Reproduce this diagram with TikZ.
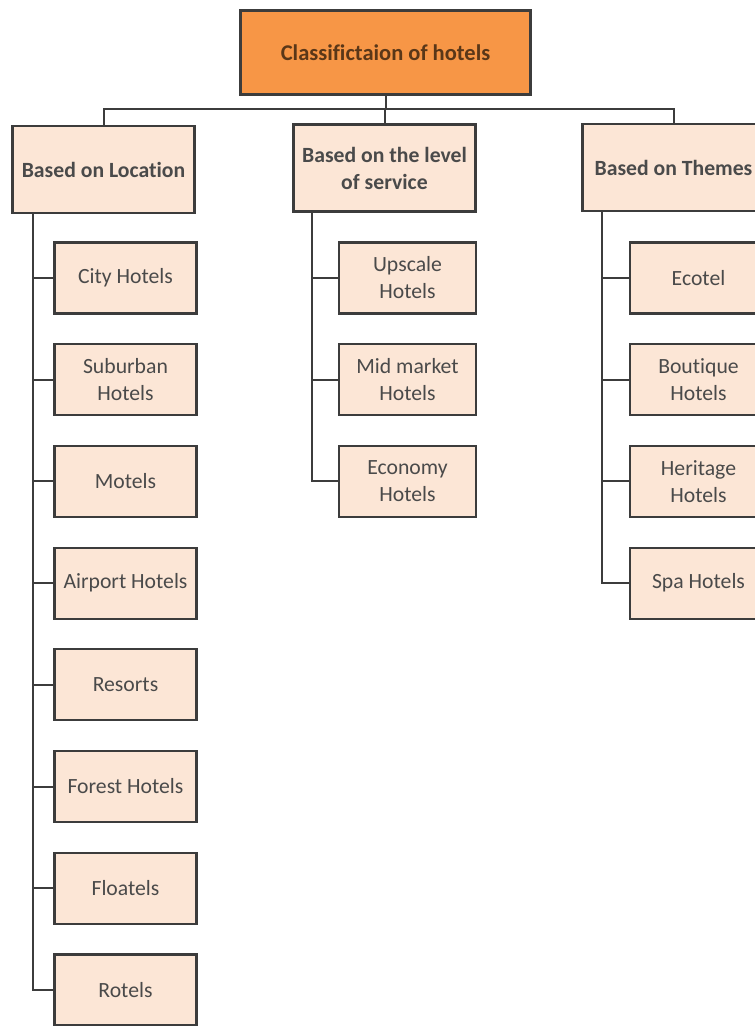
\documentclass[tikz,border=0pt]{standalone}
\usepackage{fontspec}
\setmainfont[Ligatures=NoCommon]{Carlito}
\definecolor{rootfill}{HTML}{F79646}
\definecolor{boxfill}{HTML}{FCE6D6}
\definecolor{edgecol}{HTML}{3C3C3C}
\definecolor{txtcol}{HTML}{4A4A4A}
\definecolor{roottxt}{HTML}{5A3718}
\begin{document}
\begin{tikzpicture}[x=1pt,y=-1pt,
  box/.style={draw=edgecol, line width=2.2pt, fill=boxfill, text=txtcol,
    align=center, inner sep=0pt, font=\fontsize{21.7}{27}\selectfont},
  headbox/.style={box, font=\bfseries\fontsize{21.7}{27}\selectfont,
    minimum width=182pt, minimum height=87pt},
  leafbox/.style={box, minimum width=142pt, minimum height=71pt},
  rootbox/.style={box, fill=rootfill, text=roottxt,
    font=\bfseries\fontsize{22.5}{27}\selectfont,
    minimum width=290pt, minimum height=84pt},
  link/.style={draw=edgecol, line width=2pt}]
\useasboundingbox (0,0) rectangle (755,1026);
\clip (0,0) rectangle (755,1026);

% top of the tree
\node[rootbox] (root) at (385.5,52.5) {Classifictaion of hotels};

% second level
\node[headbox] (loc)  at (103.5,169.5) {Based on Location};
\node[headbox] (serv) at (384.5,168)   {Based on the level\\of service};
\node[headbox] (them) at (673.5,167.5) {Based on Themes};

\coordinate (bus) at (385.5,109);
\draw[link] (loc.north) |- (bus) -| (them.north);
\draw[link] (root.south) -- (bus);
\draw[link] (serv.north) -- (serv.north |- bus);

% by location
\coordinate (ltrunk) at (33,213);
\foreach \name/\txt [count=\i from 0] in
  {l1/City Hotels, l2/Suburban\\Hotels, l3/Motels, l4/Airport Hotels,
   l5/Resorts, l6/Forest Hotels, l7/Floatels, l8/Rotels} {
  \node[leafbox] (\name) at (125.5,278+101.7*\i) {\txt};
  \draw[link] (ltrunk) |- (\name.west);
}

% by level of service
\coordinate (strunk) at (312,212);
\foreach \name/\txt [count=\i from 0] in
  {s1/Upscale\\Hotels, s2/Mid market\\Hotels, s3/Economy\\Hotels} {
  \node[leafbox, minimum width=137pt] (\name) at (407.5,278+101.7*\i) {\txt};
  \draw[link] (strunk) |- (\name.west);
}

% by theme
\coordinate (ttrunk) at (602,212);
\foreach \name/\txt [count=\i from 0] in
  {t1/Ecotel, t2/Boutique\\Hotels, t3/Heritage\\Hotels, t4/Spa Hotels} {
  \node[leafbox, minimum width=137pt] (\name) at (698.5,278+101.7*\i) {\txt};
  \draw[link] (ttrunk) |- (\name.west);
}
\end{tikzpicture}
\end{document}
